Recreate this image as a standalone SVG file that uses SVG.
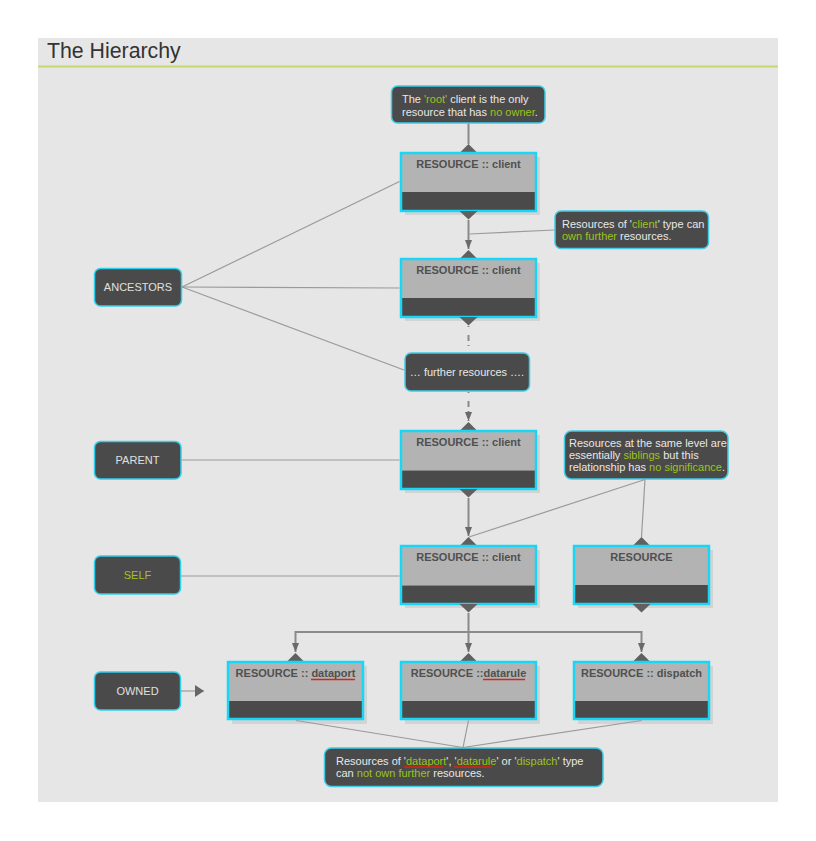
<svg xmlns="http://www.w3.org/2000/svg" width="816" height="841" viewBox="0 0 816 841">
<style>
text{font-family:"Liberation Sans",Arial,sans-serif;}
.res-shadow{fill:#d3d3d3;}
.res-top{fill:#b3b3b3;}
.res-bot{fill:#4a4a4a;}
.res-out{fill:none;stroke:#18d6f5;stroke-width:2.5;}
.res-t{font-size:11px;font-weight:bold;fill:#505050;text-anchor:middle;}
.tri{fill:#606060;}
.note{fill:#4a4a4a;stroke:#40cbe6;stroke-width:1.5;}
.note-t{font-size:11px;fill:#e8e8e8;}
.hl{fill:#9cc31c;}
.lab{fill:#4a4a4a;stroke:#2fd0ee;stroke-width:1.5;}
.lab-t{font-size:11px;fill:#e0e0e0;text-anchor:middle;}
.thin{stroke:#9a9a9a;stroke-width:1.2;fill:none;}
.flow{stroke:#8a8a8a;stroke-width:2;fill:none;}
.dash{stroke:#8a8a8a;stroke-width:2;fill:none;stroke-dasharray:1 8 6 4;}
.squig{stroke:#e0201a;stroke-width:1.5;fill:none;}
</style>
<defs>
<marker id="arr" markerUnits="userSpaceOnUse" markerWidth="10" markerHeight="10" refX="9" refY="3.5" orient="auto">
<path d="M0,0 L9,3.5 L0,7 z" fill="#6a6a6a"/>
</marker>
<marker id="arrBig" markerUnits="userSpaceOnUse" markerWidth="12" markerHeight="14" refX="9" refY="6" orient="auto">
<path d="M0,0 L9,6 L0,12 z" fill="#666"/>
</marker>
</defs>
<rect x="0" y="0" width="816" height="841" fill="#ffffff"/>
<rect x="38" y="38" width="740" height="764" fill="#e6e6e6"/>
<text x="47" y="58" font-size="21.3" fill="#333">The Hierarchy</text>
<line x1="38" y1="66.5" x2="778" y2="66.5" stroke="#c5d870" stroke-width="2"/>

<g id="note-root">
<rect class="note" x="391.5" y="86" width="153.5" height="37" rx="6"/>
<text class="note-t" x="402" y="103">The <tspan class="hl">'root'</tspan> client is the only</text>
<text class="note-t" x="402" y="115.5">resource that has <tspan class="hl">no owner</tspan>.</text>
</g>

<g id="client1">
<polygon class="tri" points="459.5,153 477.5,153 468.5,144"/>
<rect class="res-shadow" x="405" y="157" width="135" height="58"/>
<rect class="res-top" x="401" y="153" width="135" height="39"/>
<rect class="res-bot" x="401" y="192" width="135" height="19"/>
<rect class="res-out" x="401" y="153" width="135" height="58"/>
<polygon class="tri" points="459.5,211 477.5,211 468.5,219.5"/>
<text class="res-t" x="468.5" y="168">RESOURCE :: client</text>
</g>

<g id="note-client">
<rect class="note" x="555" y="211" width="153.5" height="37.5" rx="6"/>
<text class="note-t" x="562" y="228">Resources of '<tspan class="hl">client</tspan>' type can</text>
<text class="note-t" x="562" y="240"><tspan class="hl">own further</tspan> resources.</text>
</g>

<g id="client2">
<polygon class="tri" points="459.5,259 477.5,259 468.5,250"/>
<rect class="res-shadow" x="405" y="263" width="135" height="58"/>
<rect class="res-top" x="401" y="259" width="135" height="39"/>
<rect class="res-bot" x="401" y="298" width="135" height="19"/>
<rect class="res-out" x="401" y="259" width="135" height="58"/>
<polygon class="tri" points="459.5,317 477.5,317 468.5,325.5"/>
<text class="res-t" x="468.5" y="274">RESOURCE :: client</text>
</g>

<g id="further">
<rect class="note" x="405" y="353" width="124.5" height="38" rx="6"/>
<text class="note-t" x="467" y="376" text-anchor="middle">… further resources ….</text>
</g>

<g id="client3">
<polygon class="tri" points="459.5,431 477.5,431 468.5,422"/>
<rect class="res-shadow" x="405" y="435" width="135" height="58"/>
<rect class="res-top" x="401" y="431" width="135" height="39.5"/>
<rect class="res-bot" x="401" y="470.5" width="135" height="18.5"/>
<rect class="res-out" x="401" y="431" width="135" height="58"/>
<polygon class="tri" points="459.5,489 477.5,489 468.5,497.5"/>
<text class="res-t" x="468.5" y="446">RESOURCE :: client</text>
</g>

<g id="note-siblings">
<rect class="note" x="564.5" y="431" width="163.5" height="48" rx="7"/>
<text class="note-t" x="569" y="447">Resources at the same level are</text>
<text class="note-t" x="569" y="459">essentially <tspan class="hl">siblings</tspan> but this</text>
<text class="note-t" x="569" y="471">relationship has <tspan class="hl">no significance</tspan>.</text>
</g>

<g id="client-self">
<polygon class="tri" points="459.5,546 477.5,546 468.5,537"/>
<rect class="res-shadow" x="405" y="550" width="135" height="58"/>
<rect class="res-top" x="401" y="546" width="135" height="39.5"/>
<rect class="res-bot" x="401" y="585.5" width="135" height="18.5"/>
<rect class="res-out" x="401" y="546" width="135" height="58"/>
<polygon class="tri" points="459.5,604 477.5,604 468.5,612.5"/>
<text class="res-t" x="468.5" y="561">RESOURCE :: client</text>
</g>

<g id="sibling">
<polygon class="tri" points="632.5,546 650.5,546 641.5,537"/>
<rect class="res-shadow" x="578" y="550" width="135" height="58"/>
<rect class="res-top" x="574" y="546" width="135" height="39"/>
<rect class="res-bot" x="574" y="585" width="135" height="19"/>
<rect class="res-out" x="574" y="546" width="135" height="58"/>
<polygon class="tri" points="632.5,604 650.5,604 641.5,612.5"/>
<text class="res-t" x="641.5" y="561">RESOURCE</text>
</g>

<g id="dataport">
<polygon class="tri" points="286.5,662 304.5,662 295.5,653"/>
<rect class="res-shadow" x="232" y="666" width="135" height="58"/>
<rect class="res-top" x="228" y="662" width="135" height="39"/>
<rect class="res-bot" x="228" y="701" width="135" height="18"/>
<rect class="res-out" x="228" y="662" width="135" height="57"/>
<text class="res-t" x="295.5" y="677">RESOURCE :: dataport</text>
<line class="squig" x1="311" y1="679.5" x2="355" y2="679.5"/>
</g>

<g id="datarule">
<polygon class="tri" points="459.5,662 477.5,662 468.5,653"/>
<rect class="res-shadow" x="405" y="666" width="135" height="58"/>
<rect class="res-top" x="401" y="662" width="135" height="39"/>
<rect class="res-bot" x="401" y="701" width="135" height="18"/>
<rect class="res-out" x="401" y="662" width="135" height="57"/>
<text class="res-t" x="468.5" y="677">RESOURCE ::datarule</text>
<line class="squig" x1="483" y1="679.5" x2="525" y2="679.5"/>
</g>

<g id="dispatch">
<polygon class="tri" points="632.5,662 650.5,662 641.5,653"/>
<rect class="res-shadow" x="578" y="666" width="135" height="58"/>
<rect class="res-top" x="574" y="662" width="135" height="39"/>
<rect class="res-bot" x="574" y="701" width="135" height="18"/>
<rect class="res-out" x="574" y="662" width="135" height="57"/>
<text class="res-t" x="641.5" y="677">RESOURCE :: dispatch</text>
</g>

<g id="note-owned">
<rect class="note" x="324.5" y="748" width="278.5" height="38.5" rx="7"/>
<text class="note-t" x="336" y="765">Resources of '<tspan class="hl">dataport</tspan>', '<tspan class="hl">datarule</tspan>' or '<tspan class="hl">dispatch</tspan>' type</text>
<text class="note-t" x="336" y="777">can <tspan class="hl">not own further</tspan> resources.</text>
<line class="squig" x1="404" y1="767" x2="443" y2="767"/>
<line class="squig" x1="454" y1="767" x2="492" y2="767"/>
</g>

<g id="ancestors">
<rect class="lab" x="94.5" y="268.5" width="87" height="37.5" rx="6"/>
<text class="lab-t" x="138" y="291">ANCESTORS</text>
</g>
<g id="parent">
<rect class="lab" x="94.5" y="441.5" width="86.5" height="37.5" rx="6"/>
<text class="lab-t" x="137.5" y="464">PARENT</text>
</g>
<g id="self">
<rect class="lab" x="94.5" y="556" width="86" height="38" rx="6"/>
<text class="lab-t" x="137.5" y="579" style="fill:#a6c21a">SELF</text>
</g>
<g id="owned">
<rect class="lab" x="94.5" y="672" width="86" height="38" rx="6"/>
<text class="lab-t" x="137.5" y="695">OWNED</text>
</g>

<g id="connectors">
<line class="flow" x1="468.5" y1="123.5" x2="468.5" y2="144"/>
<line class="flow" x1="468.5" y1="220" x2="468.5" y2="249" marker-end="url(#arr)"/>
<line class="dash" x1="468.5" y1="326" x2="468.5" y2="352"/>
<line class="dash" x1="468.5" y1="392" x2="468.5" y2="421" marker-end="url(#arr)"/>
<line class="flow" x1="468.5" y1="498" x2="468.5" y2="536" marker-end="url(#arr)"/>
<line class="flow" x1="468.5" y1="613" x2="468.5" y2="632"/>
<line class="flow" x1="295.5" y1="632" x2="641.5" y2="632"/>
<line class="flow" x1="295.5" y1="631" x2="295.5" y2="652" marker-end="url(#arr)"/>
<line class="flow" x1="468.5" y1="631" x2="468.5" y2="652" marker-end="url(#arr)"/>
<line class="flow" x1="641.5" y1="631" x2="641.5" y2="652" marker-end="url(#arr)"/>
<line class="thin" x1="554.5" y1="230" x2="469.5" y2="234"/>
<line class="thin" x1="645" y1="479.5" x2="469" y2="537"/>
<line class="thin" x1="645" y1="479.5" x2="641.5" y2="537"/>
<line class="thin" x1="296" y1="720.5" x2="463" y2="747.5"/>
<line class="thin" x1="468.5" y1="720.5" x2="463" y2="747.5"/>
<line class="thin" x1="641.5" y1="720.5" x2="463" y2="747.5"/>
<line class="thin" x1="182" y1="287" x2="399.5" y2="181.5"/>
<line class="thin" x1="182" y1="287" x2="399.5" y2="288"/>
<line class="thin" x1="182" y1="287" x2="404" y2="370"/>
<line class="thin" x1="181.5" y1="460" x2="399.5" y2="460"/>
<line class="thin" x1="181" y1="576" x2="399.5" y2="576"/>
<line class="thin" x1="181" y1="691" x2="204" y2="691" marker-end="url(#arrBig)"/>
</g>
</svg>
